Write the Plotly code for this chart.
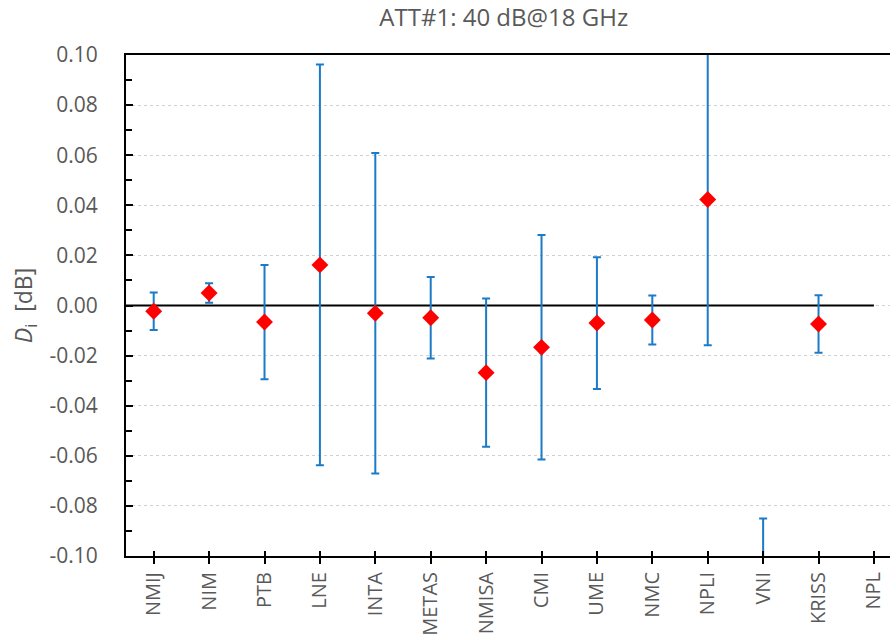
import plotly.graph_objects as go

categories = ["NMIJ", "NIM", "PTB", "LNE", "INTA", "METAS", "NMISA", "CMI",
              "UME", "NMC", "NPLI", "VNI", "KRISS", "NPL"]
di_values = [-0.0023, 0.0050, -0.0066, 0.0162, -0.0031, -0.0049, -0.0268, -0.0167,
             -0.0070, -0.0058, 0.0423, -0.1400, -0.0074, None]
uncertainty = [0.0075, 0.0039, 0.0228, 0.0800, 0.0640, 0.0163, 0.0296, 0.0448,
               0.0263, 0.0098, 0.0582, 0.0550, 0.0115, None]
y_ticks = [-0.10, -0.08, -0.06, -0.04, -0.02, 0.00, 0.02, 0.04, 0.06, 0.08, 0.10]
title_text = "ATT#1: 40 dB@18 GHz"

FONT = "Open Sans"
GREY = "#595959"

fig = go.Figure()
fig.add_trace(go.Scatter(
    x=categories, y=di_values, mode="markers",
    marker=dict(symbol="diamond", color="#FF0000", size=13, line=dict(width=0)),
    error_y=dict(type="data", array=uncertainty, visible=True,
                 color="#1B7BC8", thickness=2, width=4),
    cliponaxis=True, showlegend=False,
))
# invisible trace for the overlay axis that draws inner half of x ticks
fig.add_trace(go.Scatter(x=categories, y=[None] * len(categories), xaxis="x2",
                         mode="markers", showlegend=False, hoverinfo="skip"))

fig.add_shape(type="line", xref="x", yref="y", x0=-0.5, x1=len(categories) - 1,
              y0=0, y1=0, line=dict(color="black", width=2), layer="between")

fig.update_layout(
    width=890, height=639,
    margin=dict(l=126, r=0, t=55, b=83, autoexpand=False),
    paper_bgcolor="white", plot_bgcolor="white",
    font=dict(family=FONT, color=GREY, size=21),
    title=dict(text=title_text, x=0.566, xanchor="center", y=0.985, yanchor="top",
               font=dict(family=FONT, size=24, color=GREY)),
    xaxis=dict(
        type="category", categoryorder="array", categoryarray=categories,
        range=[-0.5, 13.29], showline=True, linecolor="black", linewidth=2,
        mirror=True, ticks="outside", ticklen=6, tickwidth=1.5, tickcolor="black",
        tickangle=-90, showgrid=False, zeroline=False, automargin=False,
        tickfont=dict(family=FONT, size=20, color=GREY),
    ),
    xaxis2=dict(
        type="category", categoryorder="array", categoryarray=categories,
        range=[-0.5, 13.29], overlaying="x", anchor="y", side="bottom",
        ticks="inside", ticklen=5, tickwidth=1.5, tickcolor="black",
        showticklabels=False, showgrid=False, zeroline=False, showline=False,
        automargin=False,
    ),
    yaxis=dict(
        range=[-0.10, 0.10], tickvals=y_ticks,
        ticktext=[f"{v:.2f}" for v in y_ticks],
        showline=True, linecolor="black", linewidth=2,
        ticks="inside", ticklen=7, tickwidth=1.5, tickcolor="black",
        minor=dict(dtick=0.01, ticks="inside", ticklen=6, tickwidth=1.5,
                   tickcolor="black", showgrid=False),
        showgrid=True, gridcolor="#D0D0D0", griddash="dot", gridwidth=1,
        zeroline=False, ticklabelstandoff=22, automargin=False,
        tickfont=dict(family=FONT, size=21, color=GREY),
        title=dict(text="<i>D</i><sub>i</sub>  [dB]", standoff=10,
                   font=dict(family=FONT, size=23, color=GREY)),
    ),
)

fig.write_html("out.html")
